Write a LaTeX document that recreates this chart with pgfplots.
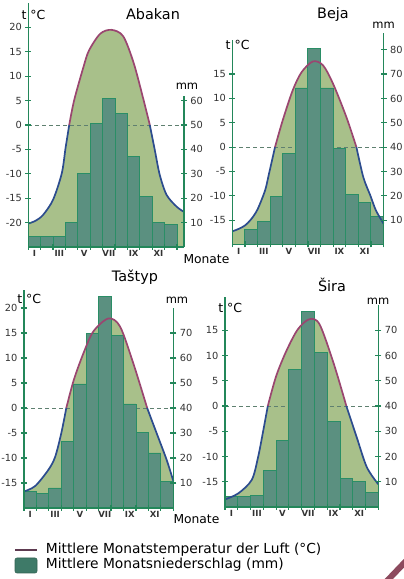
\documentclass[border=0pt]{standalone}
\usepackage{fontspec}
\setmainfont{DejaVu Sans}
\usepackage{pgfplots}
\pgfplotsset{compat=1.18}
\definecolor{axgreen}{HTML}{23875A}
\definecolor{barfill}{HTML}{5B9080}
\definecolor{baredge}{HTML}{2A8E66}
\definecolor{tfill}{HTML}{A8C08A}
\definecolor{twarm}{HTML}{9A4670}
\definecolor{tcold}{HTML}{2C4C8E}
\definecolor{zeroline}{HTML}{5F8070}
\definecolor{lblgray}{HTML}{333333}
\definecolor{legline}{HTML}{5E3A50}
\definecolor{legbox}{HTML}{3E7A68}
\definecolor{decor}{HTML}{8C4A5E}

\pgfplotsset{
  clim/.style={scale only axis, anchor=south west, xmin=0, clip=false, axis on top,
    axis line style={-, axgreen, line width=1.3pt},
    tick style={axgreen, line width=1.2pt}, tick align=center, major tick length=6pt,
    tick label style={font=\fontsize{9.8}{10}\selectfont, text=lblgray},
    /pgf/number format/assume math mode=true},
  mmax/.style={clim, axis y line*=right, axis x line*=bottom,
    y axis line style={draw=none},
    xtick={0,...,12}, xticklabels={},
    extra x ticks={0.5,2.5,4.5,6.5,8.5,10.5},
    extra x tick labels={I,III,V,VII,IX,XI},
    extra x tick style={major tick length=0pt,
      tick label style={font=\fontsize{8.5}{9}\selectfont\bfseries, text=lblgray}}},
  tax/.style={clim, axis y line*=left, axis x line=none},
  bars/.style={ybar interval, fill=barfill, draw=baredge, line width=0.9pt},
  tfillst/.style={draw=none, fill=tfill, smooth},
  warm/.style={twarm, line width=1.7pt, smooth},
  cold/.style={tcold, line width=1.7pt, smooth},
}
\newcommand{\zeroln}[2]{\draw[zeroline, line width=0.8pt, dash pattern=on 4pt off 3pt] (axis cs:0,#1) -- (axis cs:#2,#1);}

\begin{document}
\begin{tikzpicture}
\useasboundingbox (0,0) rectangle (404pt,579pt);

% ---------- Abakan ----------
\begin{axis}[mmax, at={(28.3pt,332pt)}, width=155.6pt, height=244pt,
  xmax=12.55, ymin=0, ymax=100, ytick={10,20,...,60}]
  \addplot[tfillst, y filter/.expression={2*(y+25)}] coordinates {
    (0,-20.2) (0.6,-19.6) (1.2,-18.4) (2.0,-15.3) (2.7,-9.9) (3.0,-4.8) (3.3,0)
    (3.7,5.1) (4.45,11.9) (4.9,15.3) (5.8,18.7) (6.7,19.5) (7.65,18.2) (8.5,12.7) (9.3,5.1) (9.8,0)
    (10.2,-5.1) (10.6,-10.2) (11.15,-14.3) (11.95,-16.7) (12.55,-17.8)} \closedcycle;
  \zeroln{50}{12.55}
  \addplot[bars] coordinates {(0,4.2) (1,4.2) (2,4.2) (3,9.9) (4,30) (5,50.8) (6,60.7)
    (7,54.8) (8,37) (9,20.8) (10,10.2) (11,9.2) (12,9.2)};
  \addplot[cold, y filter/.expression={2*(y+25)}] coordinates {
    (0,-20.2) (0.6,-19.6) (1.2,-18.4) (2.0,-15.3) (2.7,-9.9) (3.0,-4.8) (3.3,0)};
  \addplot[warm, y filter/.expression={2*(y+25)}] coordinates {
    (3.3,0) (3.7,5.1) (4.45,11.9) (4.9,15.3) (5.8,18.7) (6.7,19.5) (7.65,18.2) (8.5,12.7) (9.3,5.1) (9.8,0)};
  \addplot[cold, y filter/.expression={2*(y+25)}] coordinates {
    (9.8,0) (10.2,-5.1) (10.6,-10.2) (11.15,-14.3) (11.95,-16.7) (12.55,-17.8)};
  \draw[axgreen, line width=1.3pt] (axis cs:12.55,0) -- (axis cs:12.55,62);
\end{axis}
\begin{axis}[tax, at={(28.3pt,332pt)}, width=155.6pt, height=244pt,
  xmax=12.55, ymin=-25, ymax=25, ytick={-20,-15,...,20}]
\end{axis}

% ---------- Beja ----------
\begin{axis}[mmax, at={(232.3pt,334.5pt)}, width=151.2pt, height=204.5pt,
  xmax=12, ymin=0, ymax=84, ytick={10,20,...,80}]
  \addplot[tfillst, y filter/.expression={2*(y+20)}] coordinates {
    (0,-17.3) (0.5,-16.8) (1.0,-16.1) (1.5,-14.8) (2.0,-12.8) (2.6,-8.9) (2.9,-5.6) (3.39,0)
    (4.0,5.5) (4.8,11.7) (5.5,15.4) (6.4,17.6) (7.2,16.8) (8.0,13.0) (9.05,6.2) (9.85,0)
    (10.4,-6.2) (10.95,-9.9) (11.4,-13.0) (12,-15.7)} \closedcycle;
  \zeroln{40}{12}
  \addplot[bars] coordinates {(1,6.3) (2,9.4) (3,19.7) (4,37.5) (5,64.3) (6,80.5)
    (7,64.3) (8,39.6) (9,20.4) (10,17.3) (11,11.4) (12,11.4)};
  \addplot[cold, y filter/.expression={2*(y+20)}] coordinates {
    (0,-17.3) (0.5,-16.8) (1.0,-16.1) (1.5,-14.8) (2.0,-12.8) (2.6,-8.9) (2.9,-5.6) (3.39,0)};
  \addplot[warm, y filter/.expression={2*(y+20)}] coordinates {
    (3.39,0) (4.0,5.5) (4.8,11.7) (5.5,15.4) (6.4,17.6) (7.2,16.8) (8.0,13.0) (9.05,6.2) (9.85,0)};
  \addplot[cold, y filter/.expression={2*(y+20)}] coordinates {
    (9.85,0) (10.4,-6.2) (10.95,-9.9) (11.4,-13.0) (12,-15.7)};
  \draw[axgreen, line width=1.3pt] (axis cs:12,0) -- (axis cs:12,87);
\end{axis}
\begin{axis}[tax, at={(232.3pt,334.5pt)}, width=151.2pt, height=204.5pt,
  xmax=12, ymin=-20, ymax=22, ytick={-15,-10,...,15}]
\end{axis}

% ---------- Tashtyp ----------
\begin{axis}[mmax, at={(24pt,71pt)}, width=149.3pt, height=218pt,
  xmax=12, ymin=0, ymax=87.2, ytick={10,20,...,70}]
  \addplot[tfillst, y filter/.expression={2*(y+20)}] coordinates {
    (0,-16.7) (0.9,-15.6) (1.95,-12.4) (2.5,-9.8) (3.0,-5.0) (3.4,0)
    (4.0,5.6) (4.77,10.9) (5.57,15.3) (6.78,17.9) (7.72,16.3) (8.79,8.9) (9.9,0)
    (10.67,-5.1) (11.47,-10.4) (12,-14.6)} \closedcycle;
  \zeroln{40}{12}
  \addplot[bars] coordinates {(0,6.5) (1,5.9) (2,8.0) (3,26.7) (4,49.6) (5,69.9)
    (6,84.5) (7,68.9) (8,41.6) (9,30.1) (10,22.0) (11,10.7) (12,10.7)};
  \addplot[cold, y filter/.expression={2*(y+20)}] coordinates {
    (0,-16.7) (0.9,-15.6) (1.95,-12.4) (2.5,-9.8) (3.0,-5.0) (3.4,0)};
  \addplot[warm, y filter/.expression={2*(y+20)}] coordinates {
    (3.4,0) (4.0,5.6) (4.77,10.9) (5.57,15.3) (6.78,17.9) (7.72,16.3) (8.79,8.9) (9.9,0)};
  \addplot[cold, y filter/.expression={2*(y+20)}] coordinates {
    (9.9,0) (10.67,-5.1) (11.47,-10.4) (12,-14.6)};
  \draw[axgreen, line width=1.3pt] (axis cs:12,0) -- (axis cs:12,80);
\end{axis}
\begin{axis}[tax, at={(24pt,71pt)}, width=149.3pt, height=218pt,
  xmax=12, ymin=-20, ymax=23.6, ytick={-15,-10,...,20}]
\end{axis}

% ---------- Sira ----------
\begin{axis}[mmax, at={(225pt,72pt)}, width=153.3pt, height=210pt,
  xmax=12, ymin=0, ymax=83.2, ytick={10,20,...,70}]
  \addplot[tfillst, y filter/.expression={2*(y+20)}] coordinates {
    (0,-18.5) (1.04,-17.3) (2.1,-14.6) (2.6,-10.0) (3.0,-4.8) (3.35,0)
    (4.0,5.9) (4.8,10.9) (5.7,15.2) (6.6,17.2) (7.4,16.2) (8.5,8.5) (9.5,0)
    (10.3,-6.1) (11.1,-12.1) (12,-15.5)} \closedcycle;
  \zeroln{40}{12}
  \addplot[bars] coordinates {(0,4.2) (1,4.2) (2,4.4) (3,14.4) (4,26.3) (5,54.4)
    (6,77.5) (7,61.1) (8,33.7) (9,11.3) (10,10.0) (11,5.7) (12,5.7)};
  \addplot[cold, y filter/.expression={2*(y+20)}] coordinates {
    (0,-18.5) (1.04,-17.3) (2.1,-14.6) (2.6,-10.0) (3.0,-4.8) (3.35,0)};
  \addplot[warm, y filter/.expression={2*(y+20)}] coordinates {
    (3.35,0) (4.0,5.9) (4.8,10.9) (5.7,15.2) (6.6,17.2) (7.4,16.2) (8.5,8.5) (9.5,0)};
  \addplot[cold, y filter/.expression={2*(y+20)}] coordinates {
    (9.5,0) (10.3,-6.1) (11.1,-12.1) (12,-15.5)};
  \draw[axgreen, line width=1.3pt] (axis cs:12,0) -- (axis cs:12,80);
\end{axis}
\begin{axis}[tax, at={(225pt,72pt)}, width=153.3pt, height=210pt,
  xmax=12, ymin=-20, ymax=21.6, ytick={-15,-10,...,15}]
\end{axis}

% ---------- titles and axis labels ----------
\begin{scope}[every node/.style={inner sep=0pt}]
  \node[anchor=base, font=\fontsize{14.4}{15}\selectfont] at (153pt,559.7pt) {Abakan};
  \node[anchor=base, font=\fontsize{14.4}{15}\selectfont] at (333pt,560.7pt) {Beja};
  \node[anchor=base, font=\fontsize{14.4}{15}\selectfont] at (135pt,297.3pt) {Taštyp};
  \node[anchor=base, font=\fontsize{14.4}{15}\selectfont] at (332pt,287.3pt) {Šira};

  \foreach \ax/\ay in {28.3/559.7, 232.3/529.7, 24/275.7, 225/266.7}{
    \node[anchor=base east, font=\fontsize{12.5}{13}\selectfont] at (\ax pt-1.5pt,\ay pt) {t};
    \node[anchor=base west, font=\fontsize{12.5}{13}\selectfont] at (\ax pt+2pt,\ay pt) {°C};
  }
  \foreach \mx/\my in {187/489.7, 383.5/550.7, 177/275.7, 378/274}{
    \node[anchor=base, font=\fontsize{11.5}{12}\selectfont] at (\mx pt,\my pt) {mm};
  }
  \node[anchor=base west, font=\fontsize{12.3}{13}\selectfont] at (183.3pt,315.7pt) {Monate};
  \node[anchor=base west, font=\fontsize{12.3}{13}\selectfont] at (173.3pt,55.7pt) {Monate};

  % legend
  \draw[legline, line width=2pt] (15pt,29pt) -- (37pt,29pt);
  \draw[legbox!80!black, fill=legbox, rounded corners=2pt, line width=0.6pt] (15pt,6pt) rectangle (37pt,21pt);
  \node[anchor=base west, font=\fontsize{13.8}{14}\selectfont] at (45.7pt,25.7pt) {Mittlere Monatstemperatur der Luft (°C)};
  \node[anchor=base west, font=\fontsize{13.8}{14}\selectfont] at (45.7pt,10.7pt) {Mittlere Monatsniederschlag (mm)};
\end{scope}
\draw[decor, line width=6pt] (386pt,-3pt) -- (407pt,19pt);
\end{tikzpicture}
\end{document}
